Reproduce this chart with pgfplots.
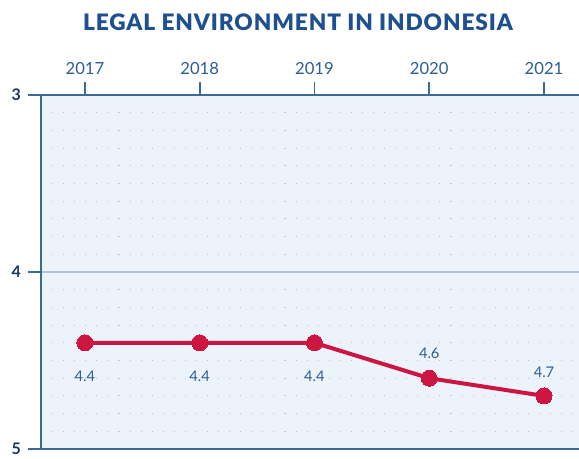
\documentclass[border=0pt]{standalone}
\usepackage{pgfplots}
\pgfplotsset{compat=1.18}
\usepackage{pgfplotstable}
\usepackage{fontspec}
\setmainfont{Lato}
\newfontfamily\titlefont{Lato Black}[LetterSpace=4]
\definecolor{titleblue}{HTML}{1D4F91}
\definecolor{tickblue}{HTML}{2B5E92}
\definecolor{axisblue}{HTML}{3A6A96}
\definecolor{navy}{HTML}{1A3560}
\definecolor{bgblue}{HTML}{EDF3FB}
\definecolor{gridblue}{HTML}{A9C6DE}
\definecolor{dotgray}{HTML}{B8C2CC}
\definecolor{crimson}{HTML}{CC1541}

% year, score, label, label offset (pt)
\pgfplotstableread{
year score lbl shift
2017 4.4 4.4 -25
2018 4.4 4.4 -25
2019 4.4 4.4 -25
2020 4.6 4.6 18.5
2021 4.7 4.7 17.5
}\legaldata

\begin{document}
\begin{tikzpicture}
\begin{axis}[
    name=ax,
    at={(0,0)}, anchor=south west,
    scale only axis,
    width=403.5pt, height=265.5pt,
    xmin=2016.617, xmax=2021.305,
    ymin=3, ymax=5,
    y dir=reverse,
    axis x line=box, axis y line*=left,
    xtick={2017,2018,2019,2020,2021},
    xticklabel pos=right, xtick pos=right,
    xticklabel style={/pgf/number format/1000 sep={}},
    x tick label style={font=\fontsize{12.5}{12.5}\selectfont, text=tickblue, yshift=2pt},
    ytick={3,4,5},
    y tick label style={font=\fontsize{12}{12}\selectfont\bfseries, text=navy, xshift=-2pt},
    /pgf/number format/assume math mode=true,
    tick align=outside,
    major tick length=9.5pt,
    minor tick length=0pt,
    tick style={axisblue, line width=1.3pt},
    axis line style={axisblue, line width=1.4pt, -},
    axis background/.style={fill=bgblue},
    minor y tick num=9,
    ymajorgrids, yminorgrids,
    major grid style={gridblue, line width=1pt},
    minor grid style={dotgray, line width=0.8pt, dash pattern=on 0.8pt off 7.5pt},
    clip=false,
]
\addplot[
    crimson, line width=3pt,
    mark=*, mark size=6pt, mark options={fill=crimson, draw=crimson, line width=0pt},
    point meta=explicit symbolic,
    nodes near coords,
    visualization depends on={\thisrow{shift} \as \lblshift},
    every node near coord/.append style={anchor=center, yshift=\lblshift pt,
        font=\fontsize{11}{11}\selectfont, text=tickblue},
] table[x=year, y=score, meta=lbl] {\legaldata};
\end{axis}
\node[font=\fontsize{17}{17}\titlefont, text=titleblue]
    at (192.75pt, 320.25pt) {LEGAL ENVIRONMENT IN INDONESIA};
\pgfresetboundingbox
\path (-30.75pt,-6.75pt) rectangle (403.5pt,336.75pt);
\end{tikzpicture}
\end{document}
